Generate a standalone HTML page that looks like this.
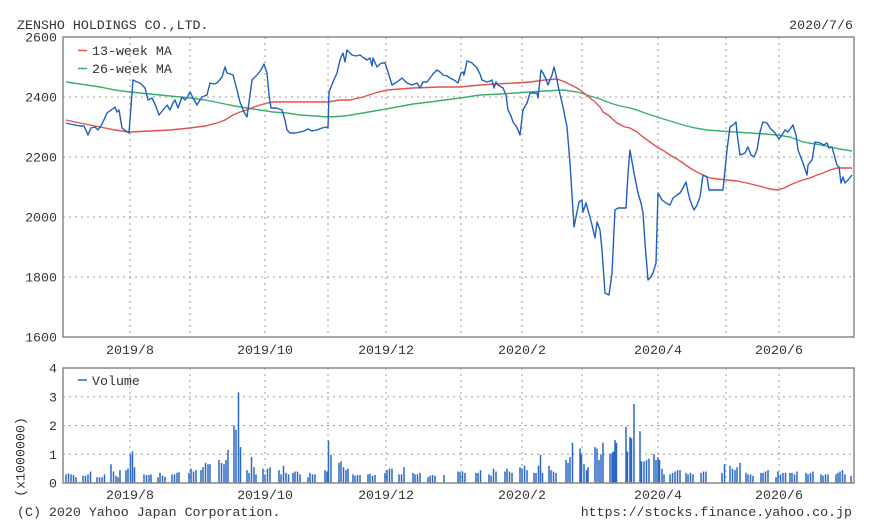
<!DOCTYPE html>
<html><head><meta charset="utf-8"><style>
html,body{margin:0;padding:0;background:#fff;}
svg{display:block;}
text{font-family:"Liberation Mono",monospace;font-size:13.3px;fill:#333;}
</style></head><body>
<svg width="870" height="528" viewBox="0 0 870 528" xmlns="http://www.w3.org/2000/svg">
<rect width="870" height="528" fill="#fff"/>
<text x="17" y="29">ZENSHO HOLDINGS CO.,LTD.</text>
<text x="853" y="29" text-anchor="end">2020/7/6</text>

<!-- main grid -->
<g stroke="#999" stroke-width="1" stroke-dasharray="2,4" fill="none">
<path d="M63 97H854M63 157H854M63 217H854M63 277H854"/>
<path d="M130 37V337M190 37V337M265 37V337M328 37V337M386 37V337M461 37V337M522 37V337M582 37V337M658 37V337M726 37V337M779 37V337"/>
<path d="M63 396.75H854M63 425.5H854M63 454.25H854"/>
<path d="M130 368V483M190 368V483M265 368V483M328 368V483M386 368V483M461 368V483M522 368V483M582 368V483M658 368V483M726 368V483M779 368V483"/>
</g>

<!-- y labels main -->
<g text-anchor="end">
<text x="57" y="41.5">2600</text>
<text x="57" y="101.5">2400</text>
<text x="57" y="161.5">2200</text>
<text x="57" y="221.5">2000</text>
<text x="57" y="281.5">1800</text>
<text x="57" y="341.5">1600</text>
<text x="57" y="372.5">4</text>
<text x="57" y="401.5">3</text>
<text x="57" y="430">2</text>
<text x="57" y="459">1</text>
<text x="57" y="487.5">0</text>
</g>
<g text-anchor="middle">
<text x="130" y="354">2019/8</text>
<text x="265" y="354">2019/10</text>
<text x="386" y="354">2019/12</text>
<text x="522" y="354">2020/2</text>
<text x="658" y="354">2020/4</text>
<text x="779" y="354">2020/6</text>
<text x="130" y="499">2019/8</text>
<text x="265" y="499">2019/10</text>
<text x="386" y="499">2019/12</text>
<text x="522" y="499">2020/2</text>
<text x="658" y="499">2020/4</text>
<text x="779" y="499">2020/6</text>
</g>
<text x="0" y="0" text-anchor="middle" transform="translate(24.5,457) rotate(-90)">(x1000000)</text>
<text x="17" y="516">(C) 2020 Yahoo Japan Corporation.</text>
<text x="852" y="516" text-anchor="end">https://stocks.finance.yahoo.co.jp</text>

<!-- MAs -->
<polyline fill="none" stroke="#3cae6c" stroke-width="1.4" points="66,82 80,84 100,87 115,90 130,92 150,94 170,96 190,98 205,100 220,103 235,106 247,108 260,110 273,112 287,113 300,115 315,116 328,117 345,116 363,113 380,110 397,107 413,104 430,102 445,100 460,98 480,95 500,94 515,93 530,92 545,91 563,90 570,91 577,92 584,94 590,96 600,99 610,103 620,106 630,108 637,110 645,113 657,117 670,121 683,125 695,128 707,130 720,131 735,132 750,133 765,134 777,135 790,137 803,142 815,144 830,147 840,149 852,151"/>
<polyline fill="none" stroke="#e0524e" stroke-width="1.4" points="66,120 80,123 100,127 115,130 130,132 150,131 170,130 190,128 205,126 217,123 225,120 233,115 240,112 247,110 254,107 260,105 267,103 273,102 293,102 310,102 328,102 340,100 350,100 363,97 375,93 387,90 400,89 413,88 440,87 460,87 480,85 497,84 515,83 530,82 545,80 557,79 565,82 571,85 577,88 584,93 590,98 595,102 600,107 603,112 608,115 617,123 625,127 630,128 637,132 643,137 650,142 657,147 664,151 670,155 677,159 683,163 690,168 697,172 703,175 710,178 718,179 727,180 737,181 747,183 755,185 763,187 770,189 778,190 784,188 790,185 797,182 803,180 810,178 817,175 823,173 830,170 837,168 845,168 852,168"/>

<!-- price -->
<polyline fill="none" stroke="#1f5fbf" stroke-width="1.4" stroke-linejoin="round" points="66,123 70,124 75,125 80,126 84,126 88,135 91,128 95,127 98,130 102,124 107,113 111,110 115,107 117,112 119,110 122,128 126,131 129,133 133,80 137,82 140,83 145,88 148,100 152,98 155,104 159,115 163,110 167,105 170,110 173,103 175,100 178,108 182,97 185,100 188,96 190,92 193,98 197,105 200,100 202,97 207,95 210,83 214,84 217,83 222,77 225,67 227,73 230,74 233,75 237,90 240,102 244,112 247,117 250,95 252,80 257,75 261,70 264,64 267,73 269,95 271,108 276,108 282,110 285,120 287,130 290,133 295,133 300,132 304,131 308,129 312,131 317,130 322,128 326,127 328,128 329,92 333,82 337,73 340,60 342,55 343,53 345,62 347,50 352,55 356,56 360,55 364,58 367,60 370,58 372,66 373,58 377,67 380,64 382,63 385,63 388,72 392,85 397,82 402,78 407,83 412,85 417,83 420,88 423,82 427,82 430,78 433,74 437,70 440,72 443,75 447,76 450,78 454,80 458,83 461,73 463,72 464,75 467,61 470,62 472,63 477,68 480,74 482,80 487,82 490,81 492,80 494,88 496,82 498,85 503,88 506,95 508,110 511,116 513,122 516,126 518,130 520,135 523,110 527,103 530,93 533,93 537,93 538,98 541,70 543,73 546,79 548,85 550,80 552,75 554,67 556,75 559,90 563,107 567,127 570,163 572,195 574,227 576,217 579,202 582,200 583,212 586,203 588,210 592,225 595,238 597,222 600,230 602,250 605,293 609,295 612,273 615,210 618,208 622,208 626,208 628,173 630,150 634,173 638,193 641,203 643,213 645,243 648,280 650,278 653,273 656,263 658,193 662,200 666,203 670,205 673,198 677,195 680,193 683,188 686,182 688,192 690,200 694,210 697,205 700,197 703,175 707,177 709,190 715,190 723,190 725,170 727,150 730,127 733,125 736,122 737,133 740,155 745,153 748,147 751,155 754,157 757,150 760,132 763,122 767,123 770,128 775,133 779,139 782,135 785,130 788,132 793,125 796,135 798,150 803,163 807,175 808,165 812,160 815,142 820,143 824,145 827,143 829,148 832,147 835,158 837,165 839,167 841,183 843,177 845,183 848,180 852,175"/>

<!-- volume bars -->
<path fill="none" stroke="#2a68c4" stroke-width="1.5" d="M66 483V474.4M68.5 483V473.5M71 483V474.4M73.5 483V475M76 483V477.2M83 483V475.8M85.5 483V475.8M88 483V474.4M90.5 483V471.5M97 483V477.2M99.5 483V477.2M102 483V477.2M104.5 483V474.4M111 483V464.3M113.5 483V471.5M116 483V475.8M118 483V477.2M120 483V470.1M126 483V470.1M128 483V468.6M130.5 483V454.25M132.5 483V451.4M134.5 483V467.2M144 483V474.4M146.5 483V475M149 483V475M151 483V474.4M158 483V477.2M160 483V472.9M162.5 483V475.8M165 483V476.7M172 483V474.4M174.5 483V474.4M177 483V472.9M179 483V472.1M189 483V472.9M191 483V468.6M193.5 483V471.5M196 483V470.1M201 483V470.1M203 483V467.2M205.5 483V462.9M208 483V464.3M210 483V464.3M219 483V460M221.5 483V462.9M224 483V464.3M226 483V460M228 483V449.9M234 483V425.5M236 483V429.8M238.5 483V392.4M240.5 483V447.1M247 483V470.1M249 483V472.9M251.5 483V457.1M254 483V467.2M256 483V474.4M263 483V468.6M265 483V474.4M267.5 483V468.6M270 483V467.2M279 483V470.1M281 483V474.4M283.5 483V465.8M286 483V472.9M288.5 483V474.4M293 483V472.9M295 483V471.5M297.5 483V471.5M300 483V474.4M308 483V477.2M310 483V472.9M312.5 483V474.4M315 483V474.4M325 483V470.1M327 483V471.5M328.5 483V440.5M331 483V454.8M339 483V462.9M341 483V461.4M343.5 483V467.2M346 483V470.1M348 483V468.6M353 483V474.4M355 483V475.8M357.5 483V475M360 483V475M368 483V474.4M370 483V473.8M372.5 483V475.8M375 483V475M385 483V472.9M387 483V470.1M389.5 483V468.6M392 483V468.6M399 483V474.4M401.5 483V474.4M404 483V467.2M413 483V472.9M415 483V474.4M417.5 483V474.4M420 483V472.9M428 483V477.2M430 483V475.8M432.5 483V475M435 483V475.8M444 483V475M458 483V471.5M460 483V472.1M462.5 483V471.5M465 483V472.9M476 483V472.9M478 483V472.9M480.5 483V470.1M489 483V474.4M491 483V475.8M493.5 483V468.6M496 483V471.5M505 483V471.5M507 483V468.6M509.5 483V471.5M512 483V472.9M520 483V467.2M522 483V468.6M524.5 483V465.8M527 483V470.1M534 483V472.9M536 483V472.9M538.5 483V465.8M540.5 483V454.8M542.5 483V472.9M549 483V465.8M551 483V470.1M553.5 483V471.5M556 483V472.9M566 483V460M568 483V462.9M570 483V457.1M572.5 483V442.75M580 483V448.5M581.5 483V454.25M584 483V464.3M586.5 483V470.1M588 483V467.2M595 483V447.1M597 483V448.5M599 483V460M601 483V454.25M603 483V442.75M610 483V454.25M612 483V452.8M613.5 483V451.4M615 483V439.9M616.5 483V442.75M626 483V426.9M627.5 483V451.4M630 483V437M631.5 483V438.4M634 483V403.9M640 483V431.25M641.5 483V461.4M644 483V461.4M646.5 483V460M649 483V458.6M654 483V454.25M656 483V460M658 483V457.1M659.5 483V460M662 483V468.6M664 483V474.4M670 483V474.4M672.5 483V472.9M675 483V471.5M677.5 483V470.1M680 483V470.1M686 483V472.9M688 483V474.4M690.5 483V472.9M693 483V474.4M701 483V472.9M703.5 483V471.5M706 483V471.5M722 483V472.9M724.5 483V464.3M730 483V465.8M732.5 483V468.6M735 483V470.1M737 483V467.2M740 483V462.9M746 483V472.9M748 483V474.4M750.5 483V474.4M753 483V475.8M761 483V472.9M763 483V472.9M765.5 483V471.5M768 483V470.1M776 483V477.2M778 483V471.5M780.5 483V474.4M783 483V472.9M785.5 483V472.9M790 483V472.9M792 483V472.9M794.5 483V474.4M797 483V471.5M806 483V472.9M808 483V474.4M810.5 483V472.9M813 483V471.5M821 483V474.4M823 483V475.8M825.5 483V474.4M828 483V474.4M836 483V474.4M838 483V472.9M840 483V471.5M842.5 483V470.1M845 483V474.4M851 483V475.8"/>

<!-- frames -->
<rect x="63" y="37" width="791" height="300" fill="none" stroke="#888" stroke-width="1.5"/>
<rect x="63" y="368" width="791" height="115" fill="none" stroke="#888" stroke-width="1.5"/>

<!-- legends -->
<line x1="78" y1="50.5" x2="87" y2="50.5" stroke="#e0524e" stroke-width="1.5"/>
<text x="92" y="55">13-week MA</text>
<line x1="78" y1="68.5" x2="87" y2="68.5" stroke="#3cae6c" stroke-width="1.5"/>
<text x="92" y="73">26-week MA</text>
<line x1="78" y1="380" x2="87" y2="380" stroke="#2a68c4" stroke-width="1.5"/>
<text x="92" y="385">Volume</text>
</svg>
</body></html>
